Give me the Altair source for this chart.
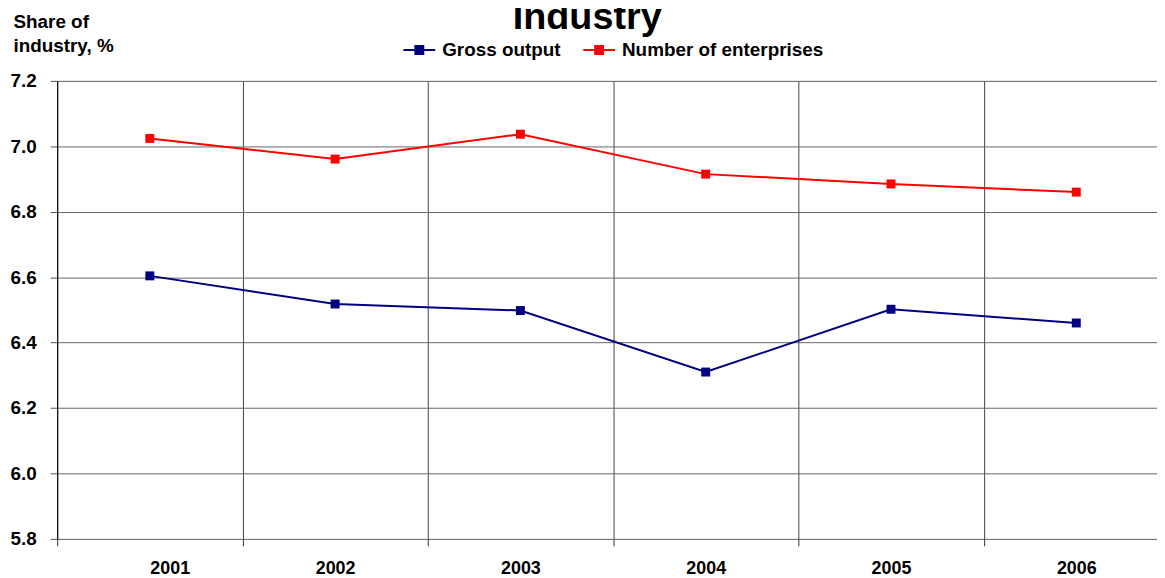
import altair as alt
import pandas as pd

chart_title = "Industry"
years = [2001, 2002, 2003, 2004, 2005, 2006]
gross_output = [6.604, 6.518, 6.498, 6.310, 6.502, 6.460]
enterprises = [7.024, 6.961, 7.037, 6.915, 6.885, 6.860]
series_names = ["Gross output", "Number of enterprises"]
series_colors = ["#000080", "#FF0000"]
y_ticks = [5.8, 6.0, 6.2, 6.4, 6.6, 6.8, 7.0, 7.2]
x_bounds = [2000.5, 2001.5, 2002.5, 2003.5, 2004.5, 2005.5]

rows = []
for yr, g, e in zip(years, gross_output, enterprises):
    rows.append({"year": yr, "series": series_names[0], "value": g})
    rows.append({"year": yr, "series": series_names[1], "value": e})
df = pd.DataFrame(rows)

FONT = "Liberation Sans"
W, H = 1107, 461
band = 186.5
xmax = 2000.5 + W / band

x_enc = alt.X(
    "year:Q",
    scale=alt.Scale(domain=[2000.5, xmax], nice=False, zero=False),
    axis=alt.Axis(
        values=x_bounds,
        labelExpr="format(datum.value + 0.5, 'd')",
        labelOffset=band / 2,
        labelFontSize=18,
        labelFontWeight="bold",
        labelFont=FONT,
        labelColor="black",
        labelPadding=14,
        labelBaseline="top",
        tickSize=7,
        tickColor="#333",
        grid=True,
        gridColor="#444",
        domain=False,
        title=None,
    ),
)
y_enc = alt.Y(
    "value:Q",
    scale=alt.Scale(domain=[5.8, 7.2], nice=False, zero=False),
    axis=alt.Axis(
        values=y_ticks,
        format=".1f",
        labelFontSize=19,
        labelFontWeight="bold",
        labelFont=FONT,
        labelColor="black",
        labelPadding=14,
        tickSize=7,
        tickColor="#555",
        grid=True,
        gridColor="#666",
        domain=True,
        domainColor="black",
        title=["Share of", "industry, %"],
        titleAngle=0,
        titleAlign="left",
        titleBaseline="alphabetic",
        titleX=-44.5,
        titleY=-53.5,
        titleFont=FONT,
        titleFontSize=19,
        titleFontWeight="bold",
        titleColor="black",
        titleLineHeight=24,
    ),
)
color_enc = alt.Color(
    "series:N",
    scale=alt.Scale(domain=series_names, range=series_colors),
    legend=alt.Legend(
        title=None,
        orient="none",
        direction="horizontal",
        legendX=347.5,
        legendY=-48,
        symbolType="M-1,0H1M-0.25,-0.25H0.25V0.25H-0.25Z",
        symbolSize=1024,
        symbolStrokeWidth=2,
        labelFont=FONT,
        labelFontSize=19,
        labelFontWeight="bold",
        labelColor="black",
        labelOffset=6,
        labelLimit=0,
        columnPadding=18,
        padding=0,
    ),
)

lines = alt.Chart(df).mark_line(strokeWidth=2).encode(
    x=x_enc, y=y_enc, color=color_enc
)
points = alt.Chart(df).mark_point(shape="square", filled=True, size=81, opacity=1).encode(
    x="year:Q", y="value:Q", color=alt.Color("series:N", legend=None)
)
title_mark = alt.Chart(pd.DataFrame({"t": [chart_title]})).mark_text(
    font=FONT, fontSize=38, fontWeight="bold", color="black",
    align="center", baseline="alphabetic",
).encode(text="t:N", x=alt.value(533.5), y=alt.value(-52))

chart = (
    alt.layer(lines, points, title_mark)
    .properties(
        width=W,
        height=H,
        autosize=alt.AutoSizeParams(type="none"),
        padding={"left": 49.5, "top": 71.5, "right": 0, "bottom": 37},
    )
    .configure_view(stroke=None)
    .configure(background="white")
)

chart.save("out.html", embed_options={"renderer": "svg", "actions": False})
